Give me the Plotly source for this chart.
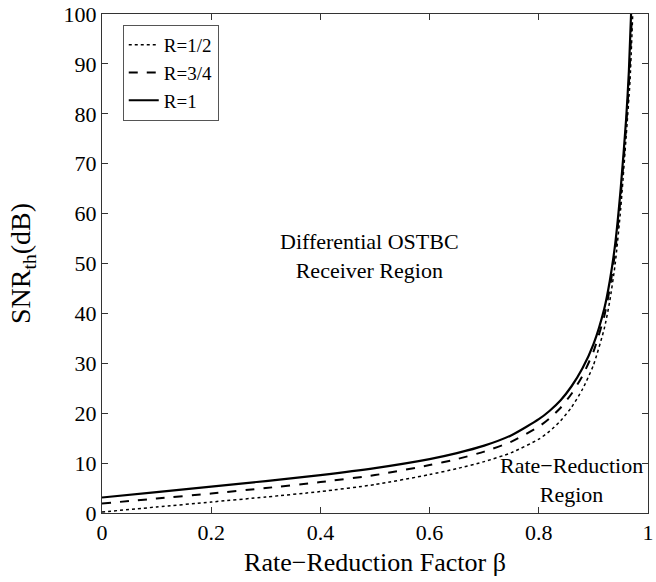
import plotly.graph_objects as go

# Rate-reduction factor beta (x) and SNR threshold in dB (y)
beta_r1 = [0, 0.1, 0.2, 0.3, 0.4, 0.5, 0.6, 0.65, 0.7, 0.75, 0.8, 0.82, 0.84, 0.86,
           0.88, 0.9, 0.92, 0.93, 0.94, 0.95, 0.96, 0.965, 0.969]
snr_r1 = [3.1, 4.2, 5.3, 6.4, 7.6, 9.0, 10.8, 12.0, 13.5, 15.6, 18.8, 20.5, 22.6, 25.4,
          29.0, 33.8, 41.0, 46.5, 54.0, 65.0, 79.0, 88.5, 100.0]

beta_r34 = [0, 0.1, 0.2, 0.3, 0.4, 0.5, 0.6, 0.65, 0.7, 0.75, 0.8, 0.82, 0.84, 0.86,
            0.88, 0.9, 0.92, 0.93, 0.94, 0.95, 0.96, 0.966, 0.9705]
snr_r34 = [1.9, 2.9, 3.9, 5.0, 6.2, 7.6, 9.6, 10.8, 12.3, 14.3, 17.3, 19.0, 21.1, 23.9,
           27.5, 32.3, 39.5, 45.0, 52.5, 63.5, 77.5, 88.0, 100.0]

beta_r12 = [0, 0.1, 0.2, 0.3, 0.4, 0.5, 0.6, 0.65, 0.7, 0.75, 0.8, 0.82, 0.84, 0.86,
            0.88, 0.9, 0.92, 0.93, 0.94, 0.95, 0.96, 0.967, 0.972]
snr_r12 = [0.2, 1.2, 2.2, 3.2, 4.3, 5.7, 7.7, 8.9, 10.3, 12.1, 14.8, 16.4, 18.5, 21.2,
           24.8, 29.6, 37.0, 42.5, 50.0, 61.0, 75.5, 86.5, 100.0]

series_names = ["R=1/2", "R=3/4", "R=1"]
x_ticks = [0, 0.2, 0.4, 0.6, 0.8, 1]
x_tick_labels = ["0", "0.2", "0.4", "0.6", "0.8", "1"]
y_ticks = [0, 10, 20, 30, 40, 50, 60, 70, 80, 90, 100]

FONT = "Liberation Serif"

fig = go.Figure()
fig.add_trace(go.Scatter(x=beta_r12, y=snr_r12, mode="lines", name=series_names[0],
                         line=dict(color="black", width=1.5, dash="dot",
                                   shape="spline", smoothing=0.6)))
fig.add_trace(go.Scatter(x=beta_r34, y=snr_r34, mode="lines", name=series_names[1],
                         line=dict(color="black", width=2, dash="dash",
                                   shape="spline", smoothing=0.6)))
fig.add_trace(go.Scatter(x=beta_r1, y=snr_r1, mode="lines", name=series_names[2],
                         line=dict(color="black", width=2.2, dash="solid",
                                   shape="spline", smoothing=0.6)))

fig.add_annotation(x=0.49, y=51.5, xref="x", yref="y",
                   text="Differential OSTBC<br>Receiver Region", showarrow=False,
                   font=dict(family=FONT, size=22, color="black"), align="center")
fig.add_annotation(x=0.86, y=6.6, xref="x", yref="y",
                   text="Rate\u2212Reduction<br>Region", showarrow=False,
                   font=dict(family=FONT, size=22, color="black"), align="center")

axis_common = dict(showgrid=False, zeroline=False, showline=True, linecolor="#333",
                   linewidth=1, mirror="ticks", ticks="inside", ticklen=6,
                   tickcolor="#333", ticklabeloverflow="allow",
                   tickfont=dict(family=FONT, size=22, color="black"))

fig.update_layout(
    width=656, height=582,
    margin=dict(l=102, r=2, t=10, b=69),
    paper_bgcolor="white", plot_bgcolor="white",
    font=dict(family=FONT, color="black"),
    xaxis=dict(range=[0, 1], tickvals=x_ticks, ticktext=x_tick_labels,
               title=dict(text="Rate\u2212Reduction Factor \u03b2",
                          font=dict(family=FONT, size=26), standoff=8),
               **axis_common),
    yaxis=dict(range=[0, 100], tickvals=y_ticks,
               title=dict(text="SNR<sub>th</sub>(dB)",
                          font=dict(family=FONT, size=28), standoff=24),
               **axis_common),
    legend=dict(x=0.038, y=0.978, xanchor="left", yanchor="top",
                bgcolor="white", bordercolor="#555", borderwidth=1,
                font=dict(family=FONT, size=19), tracegroupgap=0,
                itemwidth=30),
    showlegend=True,
)

fig.write_html("out.html")
